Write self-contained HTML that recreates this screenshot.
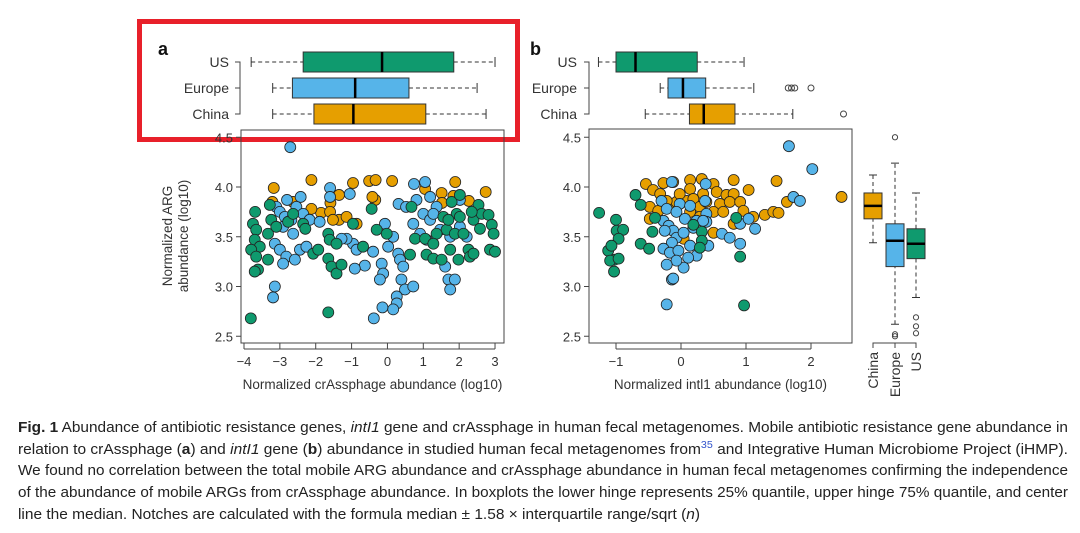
<!DOCTYPE html>
<html><head><meta charset="utf-8"><style>
body{margin:0;background:#fff;width:1080px;height:533px;overflow:hidden;font-family:"Liberation Sans",sans-serif}
svg{position:absolute;left:0;top:0}
</style></head><body>
<svg id="fig" width="1080" height="533" font-family="Liberation Sans, sans-serif">
<rect x="139.5" y="21.5" width="378" height="118" fill="none" stroke="#e8202a" stroke-width="5"/>
<g id="ga"></g>
<g id="gb"></g>
<g font-size="14.5" fill="#222" font-family="Liberation Sans Narrow, Liberation Sans, sans-serif">
<text x="18" y="432" textLength="1050" lengthAdjust="spacingAndGlyphs"><tspan font-weight="bold">Fig. 1</tspan> Abundance of antibiotic resistance genes, <tspan font-style="italic">intI1</tspan> gene and crAssphage in human fecal metagenomes. Mobile antibiotic resistance gene abundance in</text>
<text x="18" y="454" textLength="1050" lengthAdjust="spacingAndGlyphs">relation to crAssphage (<tspan font-weight="bold">a</tspan>) and <tspan font-style="italic">intI1</tspan> gene (<tspan font-weight="bold">b</tspan>) abundance in studied human fecal metagenomes from<tspan fill="#3355cc" font-size="10" dy="-6">35</tspan><tspan dy="6"> and Integrative Human Microbiome Project (iHMP).</tspan></text>
<text x="18" y="475" textLength="1050" lengthAdjust="spacingAndGlyphs">We found no correlation between the total mobile ARG abundance and crAssphage abundance in human fecal metagenomes confirming the independence</text>
<text x="18" y="497" textLength="1050" lengthAdjust="spacingAndGlyphs">of the abundance of mobile ARGs from crAssphage abundance. In boxplots the lower hinge represents 25% quantile, upper hinge 75% quantile, and center</text>
<text x="18" y="519" textLength="682" lengthAdjust="spacingAndGlyphs">line the median. Notches are calculated with the formula median ± 1.58 × interquartile range/sqrt (<tspan font-style="italic">n</tspan>)</text>
</g>
</svg>
<script>
const NS='http://www.w3.org/2000/svg';
const GREEN='#0f9a6e',BLUE='#56b4e9',ORANGE='#e69f00';
// Panel a data
const aChinaX=[-3.17,-2.12,-0.96,-0.51,-0.33,0.13,1.89,2.74,1.51,1.05,-1.35,-1.59,-1.85,-1.60,-1.35,-1.14,-0.86,-0.34,-0.42,1.52,2.27,1.84,-2.63,-3.21,-2.12,-1.52];
const aChinaY=[3.99,4.07,4.04,4.06,4.07,4.06,4.05,3.95,3.94,3.98,3.92,3.84,3.74,3.75,3.67,3.70,3.63,3.87,3.90,3.84,3.86,3.91,3.85,3.85,3.78,3.67];
const aEuropeX=[-2.71,-1.60,-1.60,-1.05,-2.42,-2.80,-3.10,-3.00,-2.86,-2.68,-2.54,-2.35,-2.17,-1.89,-2.91,-2.63,-3.14,-3.00,-2.82,-2.58,-2.44,-2.26,-2.91,-3.14,-3.19,-0.96,-0.86,-0.63,-0.91,-0.40,-0.07,-0.16,-0.12,-0.21,0.02,0.16,0.30,0.35,0.44,0.39,0.49,0.26,0.26,0.16,-0.14,-0.38,0.72,0.74,1.05,0.31,0.52,0.81,1.19,1.37,1.00,1.19,1.47,1.75,1.61,1.70,1.75,1.88,2.21,2.02,-1.14,-1.28,1.28,0.72,0.91,1.09,2.02];
const aEuropeY=[4.40,3.99,3.90,3.93,3.90,3.87,3.80,3.75,3.70,3.67,3.80,3.73,3.67,3.65,3.60,3.53,3.43,3.37,3.30,3.27,3.37,3.40,3.23,3.00,2.89,3.43,3.37,3.21,3.18,3.35,3.63,3.23,3.13,3.07,3.40,3.50,3.33,3.27,3.20,3.07,2.97,2.90,2.83,2.77,2.79,2.68,3.00,4.03,4.05,3.83,3.80,3.87,3.90,3.80,3.73,3.67,3.57,3.50,3.20,3.07,2.97,3.07,3.50,3.60,3.48,3.48,3.73,3.63,3.53,3.47,3.87];
const aUSX=[-3.81,-1.65,-3.69,-3.75,-3.66,-3.70,-3.56,-3.80,-3.66,-3.33,-3.61,-3.70,-3.28,-3.33,-3.24,-3.10,-2.77,-2.63,-2.35,-2.29,-2.07,-1.93,-1.65,-1.61,-1.65,-1.56,-1.42,-1.28,-0.96,-1.42,-0.68,-0.44,-0.30,-0.02,0.67,0.77,1.05,0.63,1.09,1.28,1.51,1.56,1.65,1.75,1.88,1.93,2.02,2.12,2.26,2.30,2.40,2.54,2.63,2.82,2.91,2.96,2.86,3.00,2.35,2.58,2.40,1.79,1.70,1.37,1.28,1.98,2.02];
const aUSY=[2.68,2.74,3.75,3.63,3.57,3.47,3.40,3.37,3.30,3.27,3.17,3.15,3.82,3.53,3.67,3.60,3.65,3.73,3.63,3.58,3.33,3.37,3.53,3.47,3.28,3.20,3.13,3.22,3.63,3.43,3.40,3.78,3.57,3.53,3.80,3.48,3.48,3.32,3.32,3.28,3.27,3.70,3.57,3.37,3.53,3.73,3.70,3.53,3.37,3.30,3.67,3.82,3.73,3.72,3.62,3.53,3.37,3.35,3.75,3.58,3.33,3.85,3.67,3.53,3.43,3.27,3.92];
// Panel b data
const bChinaX=[-0.54,-0.27,-0.12,0.14,0.32,0.50,0.81,1.04,1.47,2.47,-0.43,-0.32,0.14,0.34,0.55,0.70,0.81,0.09,0.19,0.29,0.39,0.60,0.75,0.91,0.96,-0.48,-0.35,-0.17,-0.07,0.14,0.29,0.50,0.65,-0.48,0.04,0.50,0.81,1.11,1.29,1.42,1.50,1.63,-0.22,-0.02];
const bChinaY=[4.03,4.04,4.05,4.07,4.08,4.03,4.07,3.97,4.06,3.90,3.97,3.93,3.98,3.93,3.95,3.92,3.93,3.86,3.88,3.80,3.85,3.83,3.85,3.85,3.76,3.80,3.76,3.80,3.85,3.75,3.70,3.75,3.75,3.68,3.48,3.54,3.63,3.70,3.72,3.75,3.74,3.85,3.86,3.93];
const bEuropeX=[1.66,2.02,-0.14,0.38,1.73,1.83,-0.30,-0.22,-0.02,0.14,-0.07,0.06,-0.27,-0.19,-0.12,-0.25,-0.07,0.04,-0.14,-0.27,-0.17,-0.04,0.14,0.24,0.42,0.37,0.39,0.24,0.39,0.63,0.75,0.91,0.91,1.04,1.14,0.11,0.04,-0.07,-0.22,-0.14,-0.12,-0.22,0.34,0.19];
const bEuropeY=[4.41,4.18,4.05,4.03,3.90,3.86,3.86,3.78,3.83,3.81,3.75,3.68,3.66,3.61,3.56,3.56,3.49,3.54,3.44,3.38,3.34,3.36,3.41,3.31,3.41,3.86,3.73,3.66,3.65,3.53,3.49,3.43,3.63,3.68,3.58,3.29,3.19,3.26,3.22,3.07,3.08,2.82,3.66,3.59];
const bUSX=[-1.26,-0.70,-0.62,-1.00,-0.99,-0.89,-0.96,-1.12,-1.07,-1.02,-1.09,-0.96,-1.03,-0.62,-0.49,-0.44,-0.40,0.19,0.32,0.32,0.29,0.85,0.91,0.97];
const bUSY=[3.74,3.92,3.82,3.67,3.56,3.57,3.48,3.36,3.41,3.27,3.26,3.28,3.15,3.43,3.38,3.55,3.69,3.62,3.55,3.46,3.39,3.69,3.30,2.81];
// boxplot stats: [whiskerLo, q1, median, q3, whiskerHi]
const groups=['US','Europe','China'];
const aBoxes=[[-3.8,-2.35,-0.15,1.85,3.0],[-3.2,-2.65,-0.9,0.6,2.5],[-3.2,-2.05,-0.95,1.07,2.75]];
const bBoxes=[[-1.27,-1.0,-0.7,0.25,0.97],[-0.32,-0.2,0.03,0.38,1.12],[-0.55,0.13,0.35,0.83,1.72]];
const bOutliers=[[],[1.65,1.7,1.75,2.0],[2.5]];
const vGroups=['China','Europe','US'];
const vBoxes=[[3.44,3.68,3.81,3.94,4.12],[2.62,3.2,3.46,3.63,4.24],[2.89,3.28,3.43,3.58,3.94]];
const vOutliers=[[],[4.5,2.52,2.5],[2.69,2.6,2.53]];
const yTicks=[2.5,3.0,3.5,4.0,4.5];
const aXTicks=[-4,-3,-2,-1,0,1,2,3];
const bXTicks=[-1,0,1,2];

function el(p,t,a,txt){const e=document.createElementNS(NS,t);for(const k in a)e.setAttribute(k,a[k]);if(txt!==undefined)e.textContent=txt;p.appendChild(e);return e;}
const yS=v=>187+(4-v)*99.5;
const colFor={US:GREEN,Europe:BLUE,China:ORANGE};

function panel(g,cfg){
  const {xS,left,right,top,bottom,ticks,title,boxes,outs,labelX,bracketX,letter,letterX}=cfg;
  el(g,'text',{x:letterX,y:55,'font-size':18,'font-weight':'bold',fill:'#111'},letter);
  // top boxplots
  const rows=[62,88,114];
  el(g,'path',{d:`M${bracketX-5} ${rows[0]}H${bracketX}V${rows[2]}H${bracketX-5}M${bracketX-5} ${rows[1]}H${bracketX}`,stroke:'#444',fill:'none','stroke-width':1});
  groups.forEach((gn,i)=>{
    const y=rows[i],b=boxes[i];
    const t=el(g,'text',{x:labelX,y:y+5,'font-size':14,fill:'#333','text-anchor':'end'},gn);
    
    
    el(g,'path',{d:`M${xS(b[0])} ${y}H${xS(b[1])}M${xS(b[3])} ${y}H${xS(b[4])}`,stroke:'#333','stroke-dasharray':'4,3',fill:'none'});
    el(g,'path',{d:`M${xS(b[0])} ${y-5}V${y+5}M${xS(b[4])} ${y-5}V${y+5}`,stroke:'#333'});
    const r=el(g,'rect',{x:xS(b[1]),y:y-10,width:xS(b[3])-xS(b[1]),height:20,fill:colFor[gn],stroke:'#333'});
    
    
    el(g,'line',{x1:xS(b[2]),x2:xS(b[2]),y1:y-10,y2:y+10,stroke:'#000','stroke-width':2.5});
    (outs&&outs[i]||[]).forEach(o=>el(g,'circle',{cx:xS(o),cy:y,r:3,fill:'none',stroke:'#444'}));
  });
  // plot frame
  el(g,'rect',{x:left,y:top,width:right-left,height:bottom-top,fill:'none',stroke:'#444'});
  yTicks.forEach(v=>{el(g,'line',{x1:left-5,x2:left,y1:yS(v),y2:yS(v),stroke:'#444'});
    el(g,'text',{x:left-8,y:yS(v)+5,'font-size':13,fill:'#333','text-anchor':'end'},v.toFixed(1));});
  ticks.forEach(v=>{el(g,'line',{x1:xS(v),x2:xS(v),y1:bottom,y2:bottom+6,stroke:'#444'});
    el(g,'text',{x:xS(v),y:bottom+23,'font-size':13,fill:'#333','text-anchor':'middle'},v<0?'\u2212'+(-v):String(v));});
  el(g,'line',{x1:xS(ticks[0]),x2:xS(ticks[ticks.length-1]),y1:bottom+6,y2:bottom+6,stroke:'#444'});
  el(g,'text',{x:(left+right)/2,y:389,'font-size':13.5,fill:'#333','text-anchor':'middle'},title);
}
function pts(g,xs,ys,xS,col,name){
  const gg=el(g,'g',{});
  
  
  xs.forEach((x,i)=>{const c=el(gg,'circle',{cx:xS(x),cy:yS(ys[i]),r:5.5,fill:col,stroke:'#222','stroke-width':0.8});});
}
const ga=document.getElementById('ga'),gb=document.getElementById('gb');
const xA=v=>244+(v+4)*35.86, xB=v=>681+v*65;
panel(ga,{xS:xA,left:241,right:504,top:130,bottom:343,ticks:aXTicks,title:'Normalized crAssphage abundance (log10)',boxes:aBoxes,outs:null,labelX:229,bracketX:240,letter:'a',letterX:158});
panel(gb,{xS:xB,left:589,right:852,top:129,bottom:343,ticks:bXTicks,title:'Normalized intl1 abundance (log10)',boxes:bBoxes,outs:bOutliers,labelX:577,bracketX:589,letter:'b',letterX:530});
// y title a
const yt=el(ga,'text',{transform:'translate(172,236) rotate(-90)','font-size':13.5,fill:'#333','text-anchor':'middle'},'Normalized ARG');
el(ga,'text',{transform:'translate(188,236) rotate(-90)','font-size':13.5,fill:'#333','text-anchor':'middle'},'abundance (log10)');
pts(ga,aChinaX,aChinaY,xA,ORANGE,'scatter-a-china');
pts(ga,aEuropeX,aEuropeY,xA,BLUE,'scatter-a-europe');
pts(ga,aUSX,aUSY,xA,GREEN,'scatter-a-us');
pts(gb,bChinaX,bChinaY,xB,ORANGE,'scatter-b-china');
pts(gb,bEuropeX,bEuropeY,xB,BLUE,'scatter-b-europe');
pts(gb,bUSX,bUSY,xB,GREEN,'scatter-b-us');
// vertical boxplots
const vx=[873,895,916];
el(gb,'path',{d:`M${vx[0]} 348V343H${vx[2]}V348M${vx[1]} 343V348`,stroke:'#444',fill:'none'});
vGroups.forEach((gn,i)=>{
  const x=vx[i],b=vBoxes[i];
  el(gb,'path',{d:`M${x} ${yS(b[0])}V${yS(b[1])}M${x} ${yS(b[3])}V${yS(b[4])}`,stroke:'#333','stroke-dasharray':'4,3'});
  el(gb,'path',{d:`M${x-4} ${yS(b[0])}H${x+4}M${x-4} ${yS(b[4])}H${x+4}`,stroke:'#333'});
  const r=el(gb,'rect',{x:x-9,y:yS(b[3]),width:18,height:yS(b[1])-yS(b[3]),fill:colFor[gn],stroke:'#333'});
  
  
  el(gb,'line',{x1:x-9,x2:x+9,y1:yS(b[2]),y2:yS(b[2]),stroke:'#000','stroke-width':2.5});
  vOutliers[i].forEach(o=>el(gb,'circle',{cx:x,cy:yS(o),r:2.6,fill:'none',stroke:'#444'}));
  el(gb,'text',{transform:`translate(${x+5},352) rotate(-90)`,'font-size':14,fill:'#333','text-anchor':'end'},gn);
});
</script>
</body></html>
